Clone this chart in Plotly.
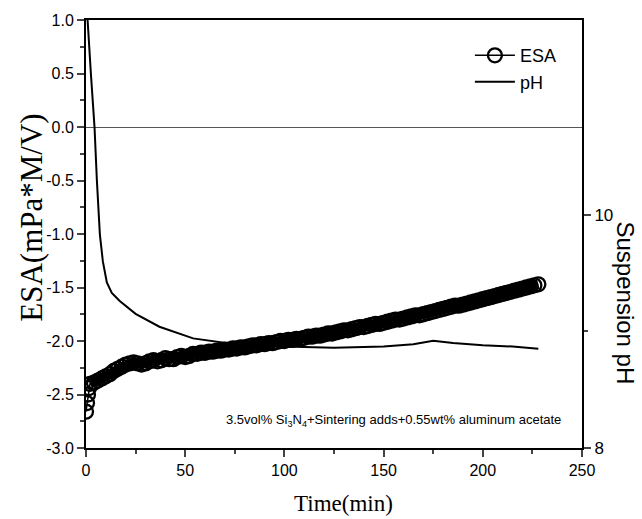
import plotly.graph_objects as go

# ESA data (time in min, ESA in mPa*M/V)
esa_time = [0, 0.5, 1, 1.5, 2, 4, 6, 8, 10, 12, 14, 16, 18, 20, 22, 24, 26, 28, 30,
            32, 34, 36, 38, 40, 42, 44, 46, 48, 50, 52, 54, 56, 58, 60, 62, 64, 66,
            68, 70, 72, 74, 76, 78, 80, 82, 84, 86, 88, 90, 92, 94, 96, 98, 100,
            102, 104, 106, 108, 110, 112, 114, 116, 118, 120, 122, 124, 126, 128,
            130, 132, 134, 136, 138, 140, 142, 144, 146, 148, 150, 152, 154, 156,
            158, 160, 162, 164, 166, 168, 170, 172, 174, 176, 178, 180, 182, 184,
            186, 188, 190, 192, 194, 196, 198, 200, 202, 204, 206, 208, 210, 212,
            214, 216, 218, 220, 222, 224, 226, 228]
esa_values = [-2.66, -2.58, -2.50, -2.44, -2.40, -2.39, -2.37, -2.35, -2.33, -2.31,
              -2.28, -2.26, -2.24, -2.22, -2.21, -2.20, -2.21, -2.22, -2.21, -2.19,
              -2.18, -2.19, -2.18, -2.16, -2.17, -2.17, -2.15, -2.14, -2.15, -2.14,
              -2.12, -2.12, -2.11, -2.11, -2.10, -2.10, -2.09, -2.09, -2.08, -2.08,
              -2.07, -2.07, -2.06, -2.06, -2.05, -2.04, -2.04, -2.03, -2.03, -2.02,
              -2.02, -2.01, -2.00, -2.00, -1.99, -1.99, -1.98, -1.98, -1.97, -1.96,
              -1.96, -1.95, -1.95, -1.94, -1.93, -1.93, -1.92, -1.91, -1.90, -1.90,
              -1.89, -1.88, -1.87, -1.87, -1.86, -1.85, -1.84, -1.84, -1.83, -1.82,
              -1.81, -1.80, -1.80, -1.79, -1.78, -1.77, -1.76, -1.76, -1.75, -1.74,
              -1.73, -1.72, -1.71, -1.70, -1.69, -1.68, -1.67, -1.67, -1.66, -1.65,
              -1.64, -1.63, -1.62, -1.61, -1.60, -1.59, -1.58, -1.57, -1.56, -1.55,
              -1.54, -1.53, -1.52, -1.51, -1.50, -1.49, -1.48, -1.47, -1.46, -1.45]

# Suspension pH data
ph_time = [0, 0.8, 2.5, 4.3, 5.5, 7.0, 8.5, 10.5, 13, 17, 25, 37, 54, 75, 100, 125,
           150, 165, 175, 185, 200, 215, 228]
ph_values = [12.0, 11.67, 11.2, 10.75, 10.29, 9.83, 9.60, 9.42, 9.33, 9.26, 9.15,
             9.04, 8.94, 8.89, 8.87, 8.86, 8.87, 8.89, 8.92, 8.90, 8.88, 8.87, 8.85]

x_ticks = [0, 50, 100, 150, 200, 250]
esa_ticks = [-3.0, -2.5, -2.0, -1.5, -1.0, -0.5, 0.0, 0.5, 1.0]
esa_tick_labels = ["-3.0", "-2.5", "-2.0", "-1.5", "-1.0", "-0.5", "0.0", "0.5", "1.0"]
ph_ticks = [8, 10]
annotation_text = "3.5vol% Si<sub>3</sub>N<sub>4</sub>+Sintering adds+0.55wt% aluminum acetate"

fig = go.Figure()
# dense band formed by the overlapping ESA symbols
fig.add_trace(go.Scatter(
    x=esa_time[4:], y=esa_values[4:], mode="lines", showlegend=False, hoverinfo="skip",
    line=dict(color="black", width=10),
))
fig.add_trace(go.Scatter(
    x=esa_time, y=esa_values, name="ESA", mode="lines+markers",
    line=dict(color="black", width=1.5),
    marker=dict(symbol="circle-open", size=14, color="black", line=dict(width=2.3)),
))
fig.add_trace(go.Scatter(
    x=ph_time, y=ph_values, name="pH", mode="lines", yaxis="y2",
    line=dict(color="black", width=2),
))

sans = "Liberation Sans, Arial, sans-serif"
serif = "Liberation Serif, Times New Roman, serif"

fig.update_layout(
    width=642, height=519,
    margin=dict(l=86, r=60, t=17, b=71),
    paper_bgcolor="white", plot_bgcolor="white",
    showlegend=True,
    legend=dict(x=0.774, y=0.96, xanchor="left", yanchor="top",
                bgcolor="rgba(0,0,0,0)", font=dict(family=sans, size=18, color="black"),
                tracegroupgap=0, itemwidth=40),
    xaxis=dict(range=[0, 250], tickvals=x_ticks, ticks="outside", ticklen=7, tickwidth=1.5,
               minor=dict(dtick=25, ticks="outside", ticklen=4, tickwidth=1.5),
               showline=True, linecolor="black", linewidth=2, mirror=True,
               showgrid=False, zeroline=False,
               tickfont=dict(family=sans, size=16, color="black")),
    yaxis=dict(range=[-3, 1], tickvals=esa_ticks, ticktext=esa_tick_labels,
               ticks="outside", ticklen=7, tickwidth=1.5,
               minor=dict(dtick=0.25, tick0=0, ticks="outside", ticklen=4, tickwidth=1.5),
               showline=True, linecolor="black", linewidth=2,
               showgrid=False, zeroline=True, zerolinecolor="#555", zerolinewidth=1,
               tickfont=dict(family=sans, size=16, color="black")),
    yaxis2=dict(range=[8, 11.67], overlaying="y", side="right", tickvals=ph_ticks,
                ticks="outside", ticklen=7, tickwidth=1.5,
                minor=dict(tickvals=[9], ticks="outside", ticklen=4, tickwidth=1.5),
                showline=True, linecolor="black", linewidth=2,
                showgrid=False, zeroline=False,
                tickfont=dict(family=sans, size=17, color="black")),
    annotations=[
        dict(text="ESA(mPa*M/V)", x=(32 - 86) / 496, y=0.538, xref="paper", yref="paper",
             showarrow=False, textangle=-90, font=dict(family=serif, size=31, color="black"),
             xanchor="center", yanchor="middle"),
        dict(text="Time(min)", x=0.52, y=-0.13, xref="paper", yref="paper", showarrow=False,
             font=dict(family=serif, size=23, color="black"), xanchor="center",
             yanchor="middle"),
        dict(text="Suspension pH", x=(626 - 86) / 496, y=0.34, xref="paper", yref="paper",
             showarrow=False, textangle=90, font=dict(family=sans, size=24, color="black"),
             xanchor="center", yanchor="middle"),
        dict(text=annotation_text, x=(563 - 86) / 496, y=0.065, xref="paper", yref="paper",
             showarrow=False, font=dict(family=sans, size=13, color="black"),
             xanchor="right", yanchor="middle"),
    ],
)

fig.write_html("out.html")
